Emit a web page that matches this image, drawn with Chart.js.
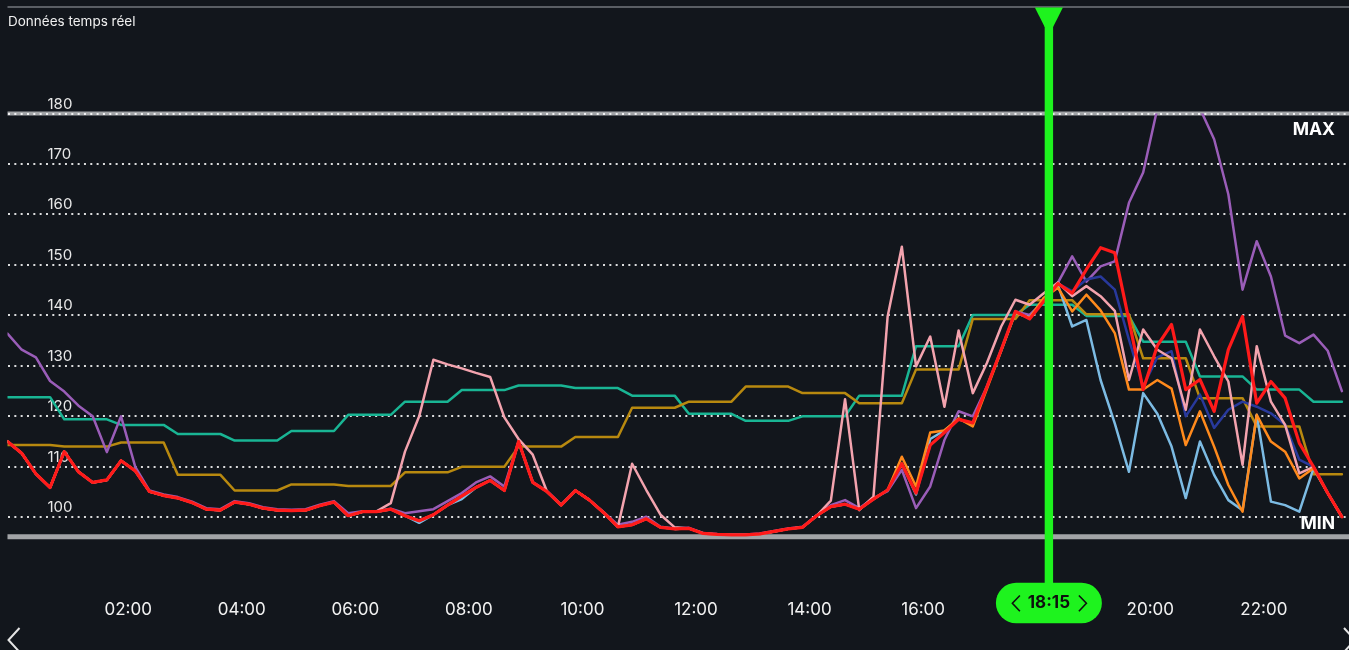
<!DOCTYPE html>
<html>
<head>
<meta charset="utf-8">
<script src="https://cdn.jsdelivr.net/npm/chart.js@4.4.1/dist/chart.umd.min.js"></script>
<style>
  html,body{margin:0;padding:0;background:#12161c;overflow:hidden;}
  canvas{display:block;}
</style>
</head>
<body>
<canvas id="c" width="1349" height="650"></canvas>
<script>
// ---- data (15-minute samples) ----
const START_HOUR = -0.125;
const STEP_HOUR = 0.25;
const TITLE = 'Données temps réel';
const CURSOR_LABEL = '18:15';
const CURSOR_HOUR = 18.25;
const MAX_LIMIT = 180;
const MIN_LIMIT = 96.15;
const Y_TICKS = [100, 110, 120, 130, 140, 150, 160, 170, 180];
const X_TICK_HOURS = [2, 4, 6, 8, 10, 12, 14, 16, 18, 20, 22];

const red = [115.0,112.7,108.6,105.9,113.0,109.0,106.9,107.4,111.2,109.2,
  105.1,104.3,103.8,102.9,101.6,101.4,103.0,102.6,101.8,101.4,
  101.3,101.4,102.3,103.0,100.3,101.1,101.1,101.6,100.3,99.3,
  100.5,102.4,104.2,105.9,107.3,105.3,115.0,106.9,105.1,102.4,
  105.3,103.4,100.9,98.1,98.5,99.7,98.0,97.7,97.8,96.8,
  96.6,96.5,96.5,96.7,97.2,97.7,98.0,100.3,102.1,102.6,
  101.6,103.6,105.4,110.6,104.8,114.3,116.8,119.4,118.7,125.9,
  133.2,140.8,139.3,142.8,146.3,144.4,149.1,153.4,152.4,139.0,
  125.3,134.0,138.2,125.3,127.3,121.0,133.2,139.8,122.6,126.9,
  123.6,114.7,110.0,104.8,100.1];

const purple = [136.4,133.2,131.7,127.0,124.9,122.1,120.0,112.9,120.0,110.0,
  105.3,104.5,104.0,103.1,101.8,101.6,103.2,102.8,102.0,101.6,
  101.5,101.6,102.5,103.2,100.8,101.2,101.2,101.7,100.8,101.2,
  101.6,103.2,104.8,106.9,108.1,106.1,115.0,107.0,105.2,102.5,
  105.3,103.4,101.0,98.5,99.1,100.1,98.1,97.8,97.9,96.9,
  96.7,96.6,96.6,96.8,97.3,97.8,98.1,100.4,102.4,103.4,
  101.8,103.8,105.2,109.4,101.8,106.1,115.3,121.0,120.0,125.9,
  133.0,140.8,140.1,142.8,146.5,151.7,146.7,149.7,150.7,162.3,
  168.3,181.0,188.0,190.0,181.0,174.9,164.0,145.1,154.7,147.7,
  136.0,134.5,136.2,133.0,125.0];

const teal = [123.8,123.8,123.8,123.8,119.4,119.4,119.4,119.4,118.3,118.3,
  118.3,118.3,116.5,116.5,116.5,116.5,115.2,115.2,115.2,115.2,
  117.1,117.1,117.1,117.1,120.3,120.3,120.3,120.3,122.9,122.9,
  122.9,122.9,125.2,125.2,125.2,125.2,126.1,126.1,126.1,126.1,
  125.6,125.6,125.6,125.6,124.1,124.1,124.1,124.1,120.5,120.5,
  120.5,120.5,119.1,119.1,119.1,119.1,120.0,120.0,120.0,120.0,
  124.1,124.1,124.1,124.1,133.9,133.9,133.9,133.9,140.1,140.1,
  140.1,140.1,142.1,142.1,142.1,142.1,139.9,139.9,139.9,139.9,
  134.8,134.8,134.8,134.8,127.9,127.9,127.9,127.9,125.3,125.3,
  125.3,125.3,122.9,122.9,122.9];

const gold = [114.3,114.3,114.3,114.3,114.0,114.0,114.0,114.0,114.8,114.8,
  114.8,114.8,108.4,108.4,108.4,108.4,105.3,105.3,105.3,105.3,
  106.5,106.5,106.5,106.5,106.2,106.2,106.2,106.2,108.9,108.9,
  108.9,108.9,110.0,110.0,110.0,110.0,114.0,114.0,114.0,114.0,
  115.9,115.9,115.9,115.9,121.7,121.7,121.7,121.7,122.9,122.9,
  122.9,122.9,125.9,125.9,125.9,125.9,124.6,124.6,124.6,124.6,
  122.6,122.6,122.6,122.6,129.3,129.3,129.3,129.3,139.3,139.3,
  139.3,139.3,143.0,143.0,143.0,143.0,140.2,140.2,140.2,140.2,
  131.5,131.5,131.5,131.5,123.6,123.6,123.6,123.6,118.0,118.0,
  118.0,118.0,108.5,108.5,108.5];

const pink = [115.0,112.7,108.6,105.9,113.0,109.0,106.9,107.4,111.2,109.2,
  105.1,104.3,103.8,102.9,101.6,101.4,103.0,102.6,101.8,101.4,
  101.3,101.4,102.3,103.0,100.3,101.1,101.2,102.8,113.0,120.0,
  131.2,130.3,129.5,128.6,127.8,119.8,115.5,112.4,105.1,102.4,
  105.3,103.4,100.9,98.1,110.6,105.4,100.5,98.0,97.8,96.8,
  96.6,96.5,96.5,96.7,97.2,97.7,98.0,100.3,103.3,123.4,
  101.4,104.1,139.8,153.6,129.9,135.8,121.9,137.0,124.6,130.6,
  137.8,143.1,142.1,144.4,146.5,143.8,145.8,143.8,140.9,127.2,
  137.2,133.2,131.5,121.3,137.2,131.9,126.9,110.4,133.9,122.9,
  118.3,108.7,110.0,104.8,100.1];

const orange = [115.0,112.7,108.6,105.9,113.0,109.0,106.9,107.4,111.2,109.2,
  105.1,104.3,103.8,102.9,101.6,101.4,103.0,102.6,101.8,101.4,
  101.3,101.4,102.3,103.0,100.3,101.1,101.1,101.6,100.3,99.3,
  100.5,102.4,104.2,105.9,107.3,105.3,115.0,106.9,105.1,102.4,
  105.3,103.4,100.9,98.1,98.5,99.7,98.0,97.7,97.8,96.8,
  96.6,96.5,96.5,96.7,97.2,97.7,98.0,100.3,102.1,102.6,
  101.6,103.6,105.4,112.0,106.1,116.8,117.2,119.6,118.0,125.5,
  133.0,140.5,139.5,143.5,145.5,140.8,144.1,141.0,136.5,125.3,
  125.3,127.2,125.5,114.3,121.0,114.0,106.4,101.1,120.3,115.0,
  113.0,107.7,109.7,104.8,100.1];

const lightBlue = [115.0,112.7,108.6,105.9,113.0,109.0,106.9,107.4,111.2,109.2,
  105.1,104.3,103.8,102.9,101.6,101.4,103.0,102.6,101.8,101.4,
  101.3,101.4,102.3,103.0,100.3,101.1,101.1,101.6,100.3,98.9,
  100.5,102.4,103.6,105.9,107.3,105.3,115.0,106.9,105.1,102.4,
  105.3,103.4,100.9,98.1,98.5,99.7,98.0,97.7,97.8,96.8,
  96.6,96.5,96.5,96.7,97.2,97.7,98.0,100.3,102.1,102.6,
  101.6,103.6,105.4,110.6,104.5,115.5,117.2,119.4,118.5,125.9,
  133.2,140.5,139.5,143.0,146.0,137.8,139.1,127.2,118.6,109.0,
  124.6,120.5,114.0,103.8,115.0,108.4,103.4,101.4,120.3,103.1,
  102.4,101.1,109.7,104.8,100.1];

const navy = [115.0,112.7,108.6,105.9,113.0,109.0,106.9,107.4,111.2,109.2,
  105.1,104.3,103.8,102.9,101.6,101.4,103.0,102.6,101.8,101.4,
  101.3,101.4,102.3,103.0,100.3,101.1,101.1,101.6,100.3,99.3,
  100.5,102.4,104.2,105.9,107.3,105.3,115.0,106.9,105.1,102.4,
  105.3,103.4,100.9,98.1,98.5,99.7,98.0,97.7,97.8,96.8,
  96.6,96.5,96.5,96.7,97.2,97.7,98.0,100.3,102.1,102.6,
  101.6,103.6,105.4,110.6,104.8,114.3,116.8,119.4,118.7,125.9,
  133.2,140.8,139.3,143.0,146.3,144.8,147.1,147.7,145.1,135.2,
  125.9,131.7,132.9,120.0,124.3,117.7,121.3,122.9,121.9,120.6,
  118.3,111.4,110.0,104.8,100.1];

// ---- chart ----
const toPoints = arr => arr.map((v, i) => ({ x: START_HOUR + i * STEP_HOUR, y: v }));
function ds(label, arr, color, width) {
  return { label, data: toPoints(arr), borderColor: color, borderWidth: width,
    pointRadius: 0, tension: 0, fill: false, borderJoinStyle: 'round', borderCapStyle: 'round' };
}

const FONT = 'Inter';

const overlay = {
  id: 'overlay',
  beforeDraw(chart) {
    const { ctx, chartArea: a, scales: { y } } = chart;
    ctx.save();
    ctx.strokeStyle = '#a2a4a7';
    ctx.lineWidth = 4;
    const yMax = y.getPixelForValue(MAX_LIMIT);
    ctx.beginPath(); ctx.moveTo(a.left, yMax); ctx.lineTo(a.right, yMax); ctx.stroke();
    ctx.lineWidth = 5;
    const yMin = y.getPixelForValue(MIN_LIMIT);
    ctx.beginPath(); ctx.moveTo(a.left, yMin); ctx.lineTo(a.right, yMin); ctx.stroke();
    // top rule
    ctx.strokeStyle = '#73777d';
    ctx.lineWidth = 1.5;
    ctx.beginPath(); ctx.moveTo(a.left, 7); ctx.lineTo(chart.width, 7); ctx.stroke();
    ctx.restore();
  },
  afterDraw(chart) {
    const { ctx, chartArea: a, scales: { x, y } } = chart;
    ctx.save();
    // title
    ctx.fillStyle = '#f0f0f0';
    ctx.font = '13.5px ' + FONT;
    ctx.textBaseline = 'middle';
    ctx.textAlign = 'left';
    ctx.fillText(TITLE, 8, 22);
    // MAX / MIN labels
    ctx.font = 'bold 17.5px ' + FONT;
    ctx.textAlign = 'right';
    ctx.fillStyle = '#ffffff';
    ctx.fillText('MAX', 1335, y.getPixelForValue(MAX_LIMIT) + 16);
    ctx.fillText('MIN', 1335, y.getPixelForValue(MIN_LIMIT) - 12.5);
    // cursor
    const cx = x.getPixelForValue(CURSOR_HOUR) - 2;
    const green = '#1ef31e';
    ctx.fillStyle = green;
    ctx.fillRect(cx - 4.2, 10, 8.4, 585 - 10);
    ctx.beginPath();
    ctx.moveTo(cx - 14, 7.5);
    ctx.lineTo(cx + 14, 7.5);
    ctx.lineTo(cx + 4.2, 27);
    ctx.lineTo(cx - 4.2, 27);
    ctx.closePath();
    ctx.fill();
    ctx.beginPath();
    ctx.roundRect(cx - 53, 582.7, 106, 40.6, 20.3);
    ctx.fill();
    ctx.fillStyle = '#0e0e0e';
    ctx.font = 'bold 17px ' + FONT;
    ctx.textAlign = 'center';
    ctx.textBaseline = 'middle';
    ctx.fillText(CURSOR_LABEL, cx, 603);
    ctx.strokeStyle = '#0e0e0e';
    ctx.lineWidth = 1.6;
    ctx.beginPath();
    ctx.moveTo(cx - 29, 595.5); ctx.lineTo(cx - 36.5, 603.3); ctx.lineTo(cx - 29, 611.2);
    ctx.moveTo(cx + 30, 595.5); ctx.lineTo(cx + 37.5, 603.3); ctx.lineTo(cx + 30, 611.2);
    ctx.stroke();
    // navigation arrows
    ctx.strokeStyle = '#e4e4e4';
    ctx.lineWidth = 2;
    ctx.beginPath();
    ctx.moveTo(19.5, 628); ctx.lineTo(8.5, 640); ctx.lineTo(19.5, 652);
    ctx.moveTo(1344, 628); ctx.lineTo(1355, 640); ctx.lineTo(1344, 652);
    ctx.stroke();
    ctx.restore();
  }
};

new Chart(document.getElementById('c'), {
  type: 'line',
  data: {
    datasets: [
      ds('Rouge', red, '#ff1a1a', 3.2),
      ds('Orange', orange, '#ff8a1c', 2.5),
      ds('Rose', pink, '#f3a3ae', 2.5),
      ds('Bleu foncé', navy, '#28399c', 2.5),
      ds('Bleu clair', lightBlue, '#7cbbe3', 2.5),
      ds('Violet', purple, '#9a5db8', 2.5),
      ds('Or', gold, '#b8890f', 2.5),
      ds('Vert', teal, '#19b594', 2.5)
    ]
  },
  options: {
    responsive: false,
    devicePixelRatio: 1,
    animation: false,
    events: [],
    layout: { padding: { top: 113.5, left: 7.5, right: 0, bottom: 0 } },
    plugins: { legend: { display: false }, tooltip: { enabled: false } },
    scales: {
      x: {
        type: 'linear',
        min: START_HOUR,
        max: 23.5,
        afterBuildTicks: s => { s.ticks = X_TICK_HOURS.map(v => ({ value: v })); },
        afterFit: s => { s.height = 113.3; s.paddingLeft = 0; s.paddingRight = 0; },
        ticks: {
          callback: v => String(v).padStart(2, '0') + ':00',
          color: '#f2f2f2',
          font: { family: FONT, size: 17 },
          padding: 63,
          maxRotation: 0,
          autoSkip: false
        },
        grid: { display: false, drawTicks: false },
        border: { display: false }
      },
      y: {
        type: 'linear',
        min: MIN_LIMIT,
        max: MAX_LIMIT,
        afterBuildTicks: s => { s.ticks = Y_TICKS.map(v => ({ value: v })); },
        afterFit: s => { s.width = 0; s.paddingTop = 0; s.paddingBottom = 0; },
        ticks: {
          mirror: true,
          padding: 40,
          labelOffset: -9.5,
          color: '#e8e8e8',
          font: { family: FONT, size: 15 }
        },
        grid: { color: 'rgba(255,255,255,0.85)', lineWidth: 2, drawTicks: false },
        border: { display: false, dash: [2, 4.33] }
      }
    }
  },
  plugins: [overlay]
});
</script>
</body>
</html>
